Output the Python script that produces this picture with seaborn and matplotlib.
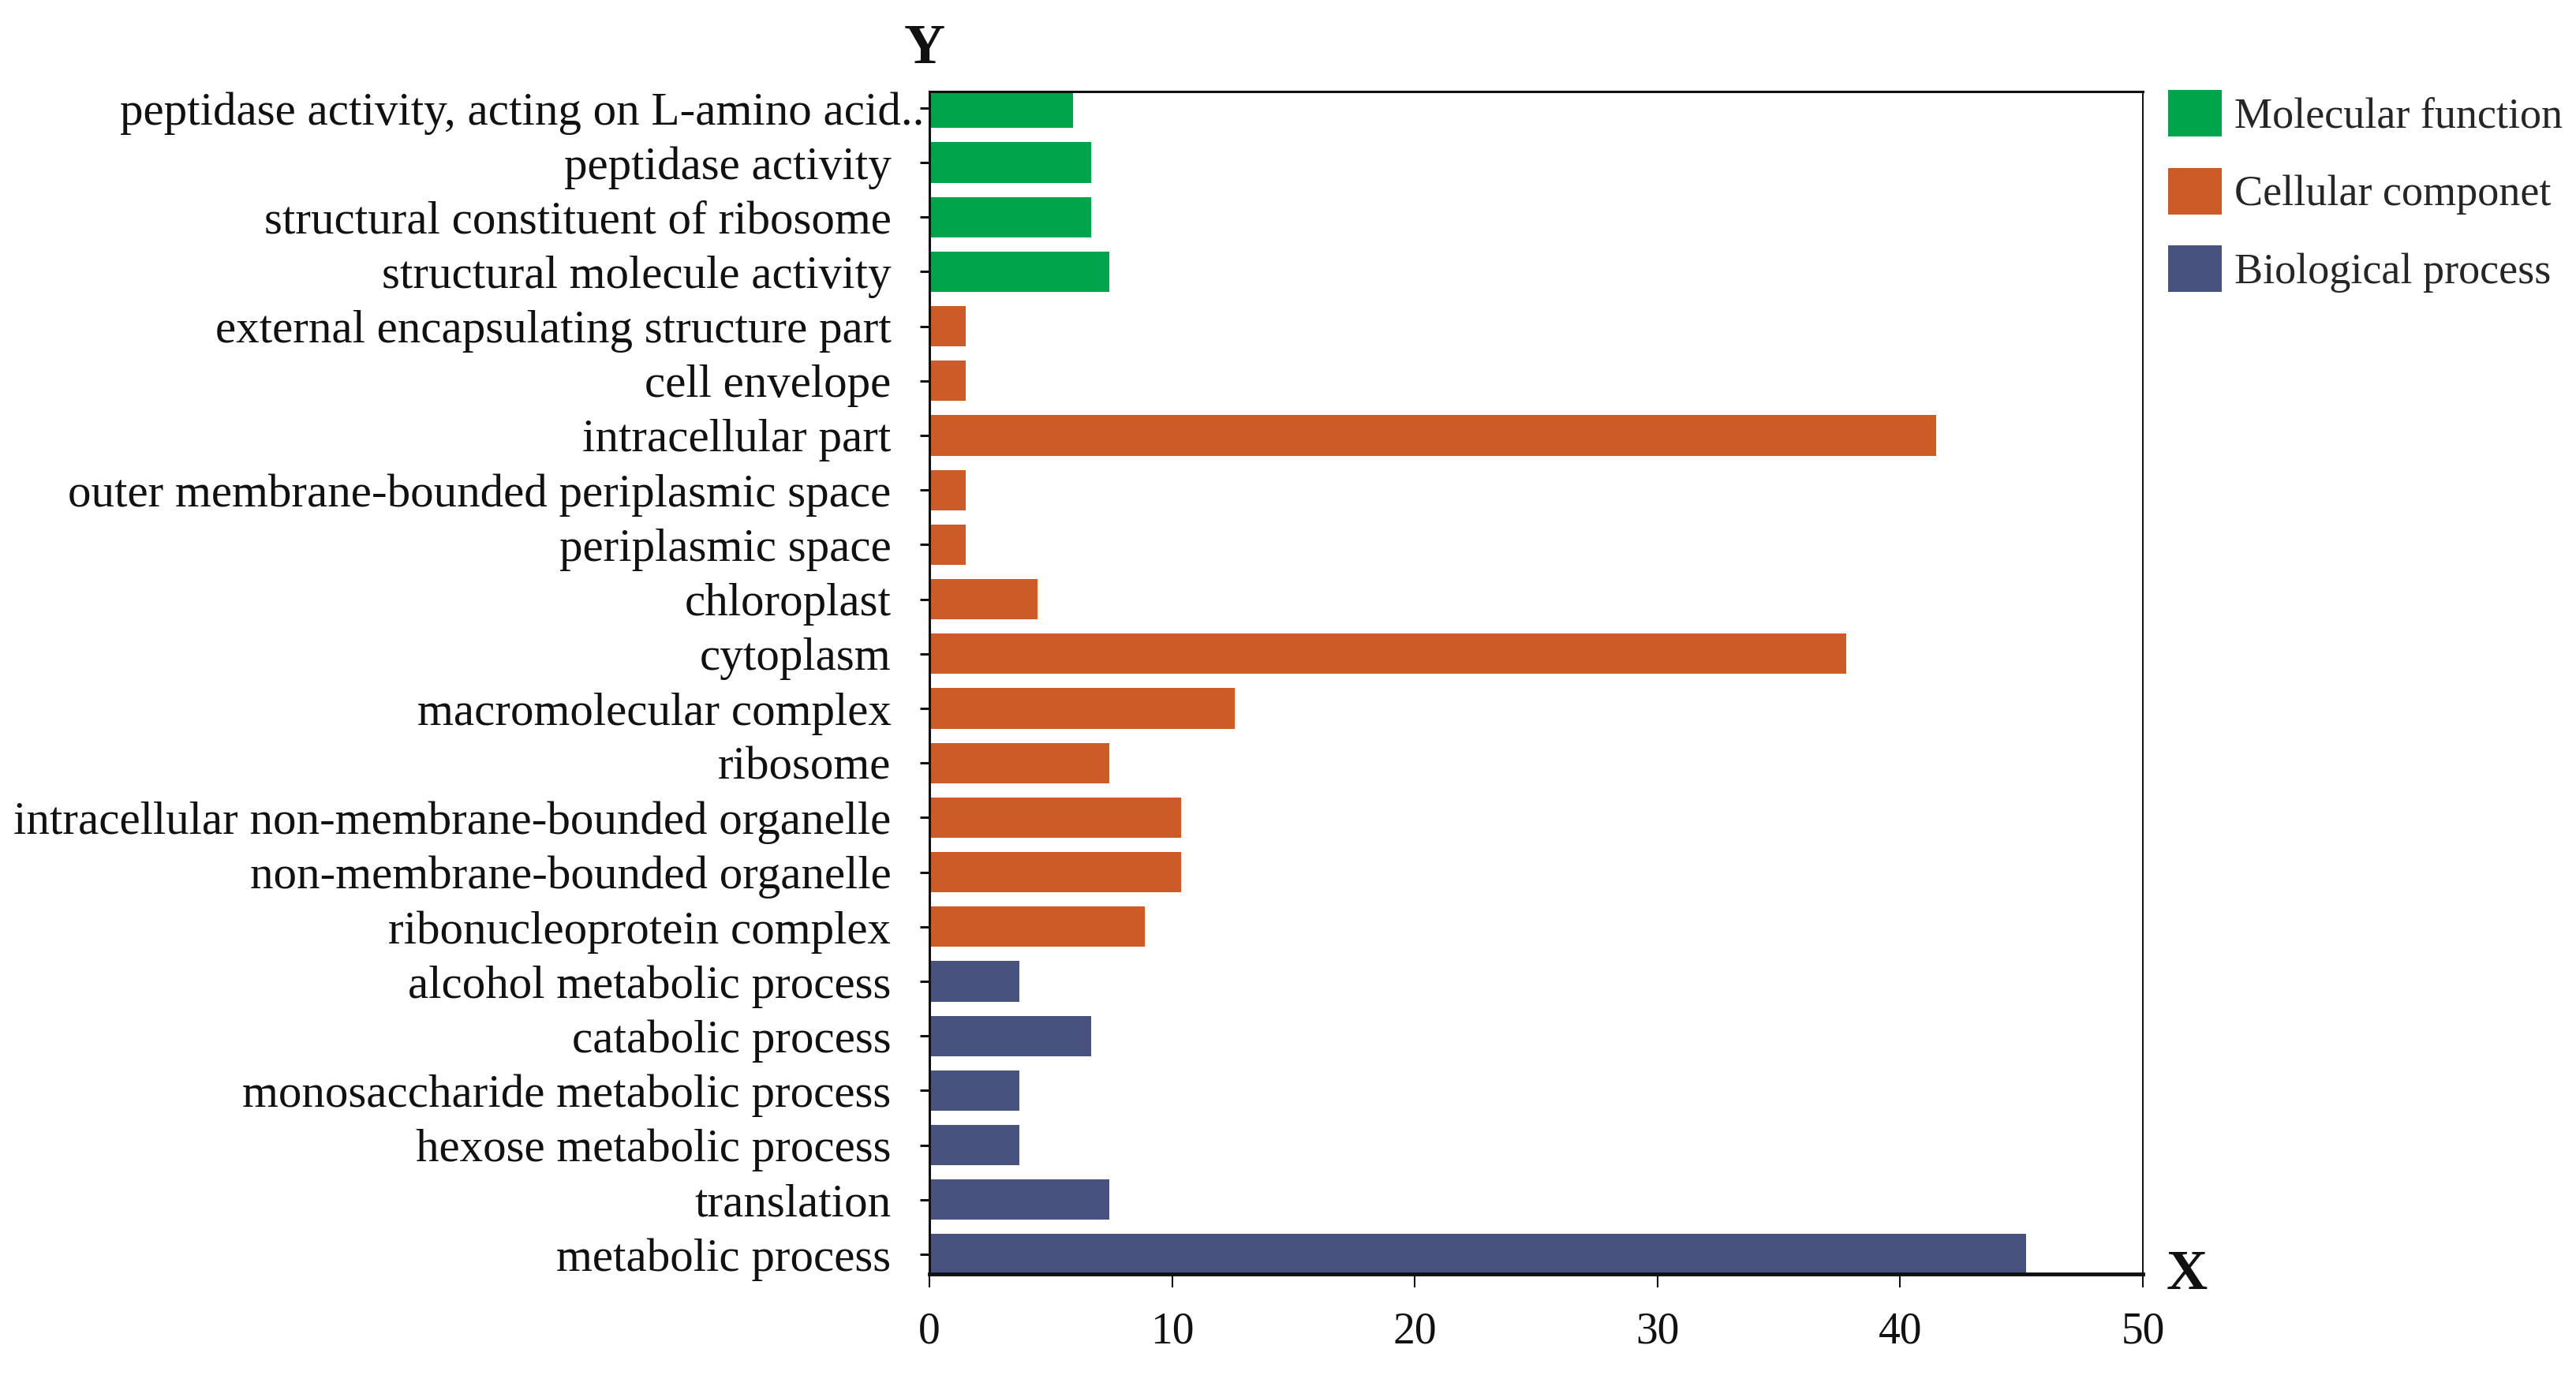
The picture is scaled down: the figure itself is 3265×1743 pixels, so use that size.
import matplotlib
matplotlib.use("Agg")
import matplotlib.pyplot as plt
import matplotlib.transforms as mtransforms
from matplotlib.patches import Patch
import seaborn as sns
import pandas as pd

terms = [
    "peptidase activity, acting on L-amino acid..",
    "peptidase activity",
    "structural constituent of ribosome",
    "structural molecule activity",
    "external encapsulating structure part",
    "cell envelope",
    "intracellular part",
    "outer membrane-bounded periplasmic space",
    "periplasmic space",
    "chloroplast",
    "cytoplasm",
    "macromolecular complex",
    "ribosome",
    "intracellular non-membrane-bounded organelle",
    "non-membrane-bounded organelle",
    "ribonucleoprotein complex",
    "alcohol metabolic process",
    "catabolic process",
    "monosaccharide metabolic process",
    "hexose metabolic process",
    "translation",
    "metabolic process",
]
values = [5.93, 6.67, 6.67, 7.41, 1.48, 1.48, 41.48, 1.48, 1.48, 4.44, 37.78,
          12.59, 7.41, 10.37, 10.37, 8.89, 3.70, 6.67, 3.70, 3.70, 7.41, 45.19]
groups = (["Molecular function"] * 4 + ["Cellular componet"] * 12
          + ["Biological process"] * 6)
group_names = ["Molecular function", "Cellular componet", "Biological process"]
group_colors = ["#00A44A", "#CD5B28", "#47527F"]
xticks = [0, 10, 20, 30, 40, 50]

df = pd.DataFrame({"term": terms, "value": values, "group": groups})

sns.set_style("ticks")
plt.rcParams["font.family"] = ["Liberation Serif", "DejaVu Serif"]

W, H = 3265, 1743
fig = plt.figure(figsize=(W / 100, H / 100), dpi=100)
left, right, top, bottom = 1178, 2716, 116, 1615
ax = fig.add_axes([left / W, 1 - bottom / H, (right - left) / W, (bottom - top) / H])

palette = dict(zip(group_names, group_colors))
sns.barplot(data=df, y="term", x="value", hue="group", hue_order=group_names,
            palette=palette, dodge=False, width=0.74, orient="h",
            saturation=1, linewidth=0, ax=ax, legend=False)

ax.set_xlim(0, 50)
ax.set_ylim(len(terms) - 1 + 0.36, -0.3)
ax.set_xticks(xticks)
ax.set_xticklabels([str(t) for t in xticks])
ax.set_xlabel("")
ax.set_ylabel("")

for side in ["top", "right", "bottom", "left"]:
    ax.spines[side].set_visible(True)
    ax.spines[side].set_color("#111111")
ax.spines["bottom"].set_linewidth(3.5)
ax.spines["top"].set_linewidth(2.2)
ax.spines["left"].set_linewidth(2.2)
ax.spines["right"].set_linewidth(1.4)

ax.tick_params(axis="y", direction="out", length=9, width=2.2, pad=26,
               labelsize=42.5, colors="#111111")
ax.tick_params(axis="x", direction="out", length=12, width=1.5, pad=22,
               labelsize=40, colors="#111111")

# first (truncated) label reaches up to the axis
lab0 = ax.get_yticklabels()[0]
lab0.set_transform(lab0.get_transform() +
                   mtransforms.ScaledTranslation(0.42, 0, fig.dpi_scale_trans))

fig.text(1172 / W, 1 - 62 / H, "Y", fontsize=52, fontweight="bold",
         ha="center", va="center", color="#111111")
fig.text(2772 / W, 1 - 1616 / H, "X", fontsize=52, fontweight="bold",
         ha="center", va="center", color="#111111")

handles = [Patch(facecolor=c, edgecolor="none", label=n)
           for n, c in zip(group_names, group_colors)]
fig.legend(handles=handles, loc="upper left",
           bbox_to_anchor=(2748 / W, 1 - 114 / H), frameon=False,
           fontsize=39, handlelength=1.26, handleheight=1.3,
           handletextpad=0.3, labelspacing=0.72, borderpad=0, borderaxespad=0)

fig.savefig("out.png", dpi=100, facecolor="white")
